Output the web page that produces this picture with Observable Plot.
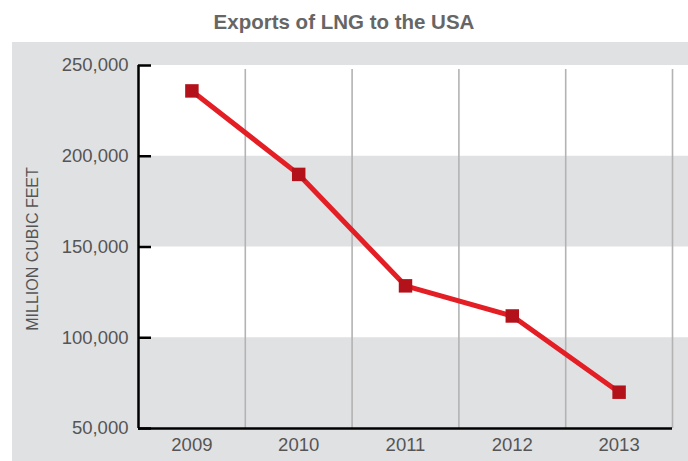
<!DOCTYPE html>
<html>
<head>
<meta charset="utf-8">
<script src="https://cdn.jsdelivr.net/npm/d3@7"></script>
<script src="https://cdn.jsdelivr.net/npm/@observablehq/plot@0.6"></script>
<style>
  html, body { margin: 0; padding: 0; background: #ffffff; }
  #title { width: 688px; height: 42px; line-height: 44px; text-align: center; font-family: "Liberation Sans Narrow", "Liberation Sans", sans-serif; font-weight: bold; font-size: 20.5px; color: #666666; }
  #panel { margin-left: 12px; width: 676px; height: 419px; background: #e0e1e3; }
  #panel svg { display: block; }
</style>
</head>
<body>
<div id="title">Exports of LNG to the USA</div>
<div id="panel"></div>
<script>
const years = [2009, 2010, 2011, 2012, 2013];
const exportsMcf = [236000, 190000, 128600, 112000, 70000];
const yTicks = [50000, 100000, 150000, 200000, 250000];
const whiteBands = [[200000, 250000], [100000, 150000]];
const yLabel = "MILLION CUBIC FEET";

const data = years.map((year, i) => ({year, value: exportsMcf[i]}));
const xMin = years[0] - 0.5, xMax = years[years.length - 1] + 0.5;

const chart = Plot.plot({
  width: 676,
  height: 419,
  marginLeft: 126,
  marginRight: 0,
  marginTop: 23,
  marginBottom: 33,
  style: {background: "transparent", fontFamily: "'Liberation Sans Narrow', 'Liberation Sans', sans-serif", fontSize: "18.5px"},
  x: {type: "linear", domain: [xMin, xMax], range: [126, 660]},
  y: {domain: [yTicks[0], yTicks[yTicks.length - 1]]},
  marks: [
    Plot.rect(whiteBands, {y1: d => d[0], y2: d => d[1], fill: "white"}),
    Plot.ruleX(years.map(y => y + 0.5), {stroke: "#b3b3b3", strokeWidth: 1.6, insetTop: 4}),
    Plot.line(data, {x: "year", y: "value", stroke: "#e31e24", strokeWidth: 5}),
    Plot.dot(data, {x: "year", y: "value", symbol: "square", r: 7.6, fill: "#b3121a"}),
    Plot.ruleX([xMin], {stroke: "black", strokeWidth: 2.5}),
    Plot.ruleY([yTicks[0]], {x1: xMin, x2: xMax, stroke: "black", strokeWidth: 2.5}),
    Plot.axisY({ticks: yTicks, tickSize: -13, tickFormat: () => "", stroke: "black", strokeWidth: 2.5, label: null}),
    Plot.axisY({ticks: yTicks, tickSize: 0, tickPadding: 10, tickFormat: d3.format(","), color: "#555555", fontSize: 18.5, label: null}),
    Plot.axisX({ticks: years, tickSize: 0, tickPadding: 9, tickFormat: "d", color: "#555555", fontSize: 18.5, label: null}),
    Plot.text([yLabel], {frameAnchor: "left", textAnchor: "middle", rotate: -90, dx: -106, dy: 2, fill: "#555555", fontSize: 16})
  ]
});
document.getElementById("panel").appendChild(chart);
</script>
</body>
</html>
